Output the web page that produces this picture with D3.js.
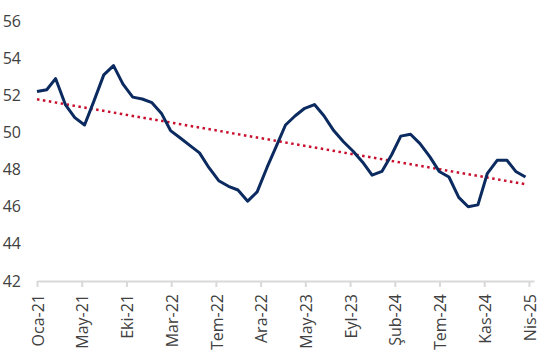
<!DOCTYPE html>
<html>
<head>
<meta charset="utf-8">
<script src="https://cdn.jsdelivr.net/npm/d3@7"></script>
<style>
  body { margin: 0; background: #fff; }
  svg text { font-family: "Open Sans", "Noto Sans", sans-serif; fill: #404040; }
</style>
</head>
<body>
<div id="chart"></div>
<script>
// monthly series, Oca-21 .. Nis-25
const startMonth = new Date(2021, 0, 1);
const values = [
  52.2, 52.3, 52.9, 51.5, 50.8, 50.4, 51.7, 53.1, 53.6, 52.6,
  51.9, 51.8, 51.6, 51.0, 50.1, 49.7, 49.3, 48.9, 48.1, 47.4,
  47.1, 46.9, 46.3, 46.8, 48.1, 49.3, 50.4, 50.9, 51.3, 51.5,
  50.9, 50.1, 49.5, 49.0, 48.4, 47.7, 47.9, 48.8, 49.8, 49.9,
  49.4, 48.7, 47.9, 47.6, 46.5, 46.0, 46.1, 47.8, 48.5, 48.5,
  47.9, 47.6
];
const yTicks = [42, 44, 46, 48, 50, 52, 54, 56];
const tickLabels = ['Oca-21', 'May-21', 'Eki-21', 'Mar-22', 'Tem-22', 'Ara-22',
  'May-23', 'Eyl-23', 'Şub-24', 'Tem-24', 'Kas-24', 'Nis-25'];
const tickStepDays = 142;

const width = 552, height = 352;
const margin = {top: 21, right: 18, bottom: 71, left: 37};

const dates = values.map((v, i) => d3.timeMonth.offset(startMonth, i));
const data = values.map((v, i) => ({date: dates[i], value: v}));
const tickDates = tickLabels.map((t, i) => d3.timeDay.offset(startMonth, i * tickStepDays));

const svg = d3.select('#chart').append('svg')
  .attr('width', width)
  .attr('height', height);

const x = d3.scaleTime()
  .domain([startMonth, new Date(2025, 3, 28)])
  .range([margin.left, width - margin.right]);

const y = d3.scaleLinear()
  .domain([42, 56])
  .range([height - margin.bottom, margin.top]);

// y labels (no axis line)
svg.append('g').selectAll('text')
  .data(yTicks)
  .join('text')
  .attr('x', 21)
  .attr('y', d => y(d))
  .attr('dy', '0.35em')
  .attr('text-anchor', 'end')
  .style('font-size', '16px')
  .text(d => d);

// x axis
const xAxis = svg.append('g')
  .attr('transform', `translate(0,${y(42)})`)
  .call(d3.axisBottom(x).tickValues(tickDates).tickSize(6).tickSizeOuter(0).tickFormat(''));

xAxis.select('.domain').attr('stroke', '#d9d9d9').attr('stroke-width', 2);
xAxis.selectAll('.tick line').attr('stroke', '#d9d9d9').attr('stroke-width', 2);

svg.append('g').selectAll('text')
  .data(tickDates)
  .join('text')
  .attr('transform', (d) => `translate(${x(d) + 1},${y(42) + 13}) rotate(-90)`)
  .attr('dy', '0.35em')
  .attr('text-anchor', 'end')
  .style('font-size', '16px')
  .text((d, i) => tickLabels[i]);

// linear trend (least squares on day number)
const xs = data.map(d => (d.date - startMonth) / 864e5);
const n = xs.length;
const mx = d3.mean(xs), my = d3.mean(values);
const slope = d3.sum(xs, (v, i) => (v - mx) * (values[i] - my)) / d3.sum(xs, v => (v - mx) * (v - mx));
const intercept = my - slope * mx;
const trend = [data[0].date, data[n - 1].date].map((d, i) => ({date: d, value: intercept + slope * xs[i === 0 ? 0 : n - 1]}));

const line = d3.line()
  .x(d => x(d.date))
  .y(d => y(d.value));

svg.append('path')
  .datum(trend)
  .attr('fill', 'none')
  .attr('stroke', '#c8102e')
  .attr('stroke-width', 2.5)
  .attr('stroke-dasharray', '2.5 3.5')
  .attr('d', line);

svg.append('path')
  .datum(data)
  .attr('fill', 'none')
  .attr('stroke', '#0b2a5f')
  .attr('stroke-width', 3)
  .attr('stroke-linejoin', 'round')
  .attr('d', line);
</script>
</body>
</html>
